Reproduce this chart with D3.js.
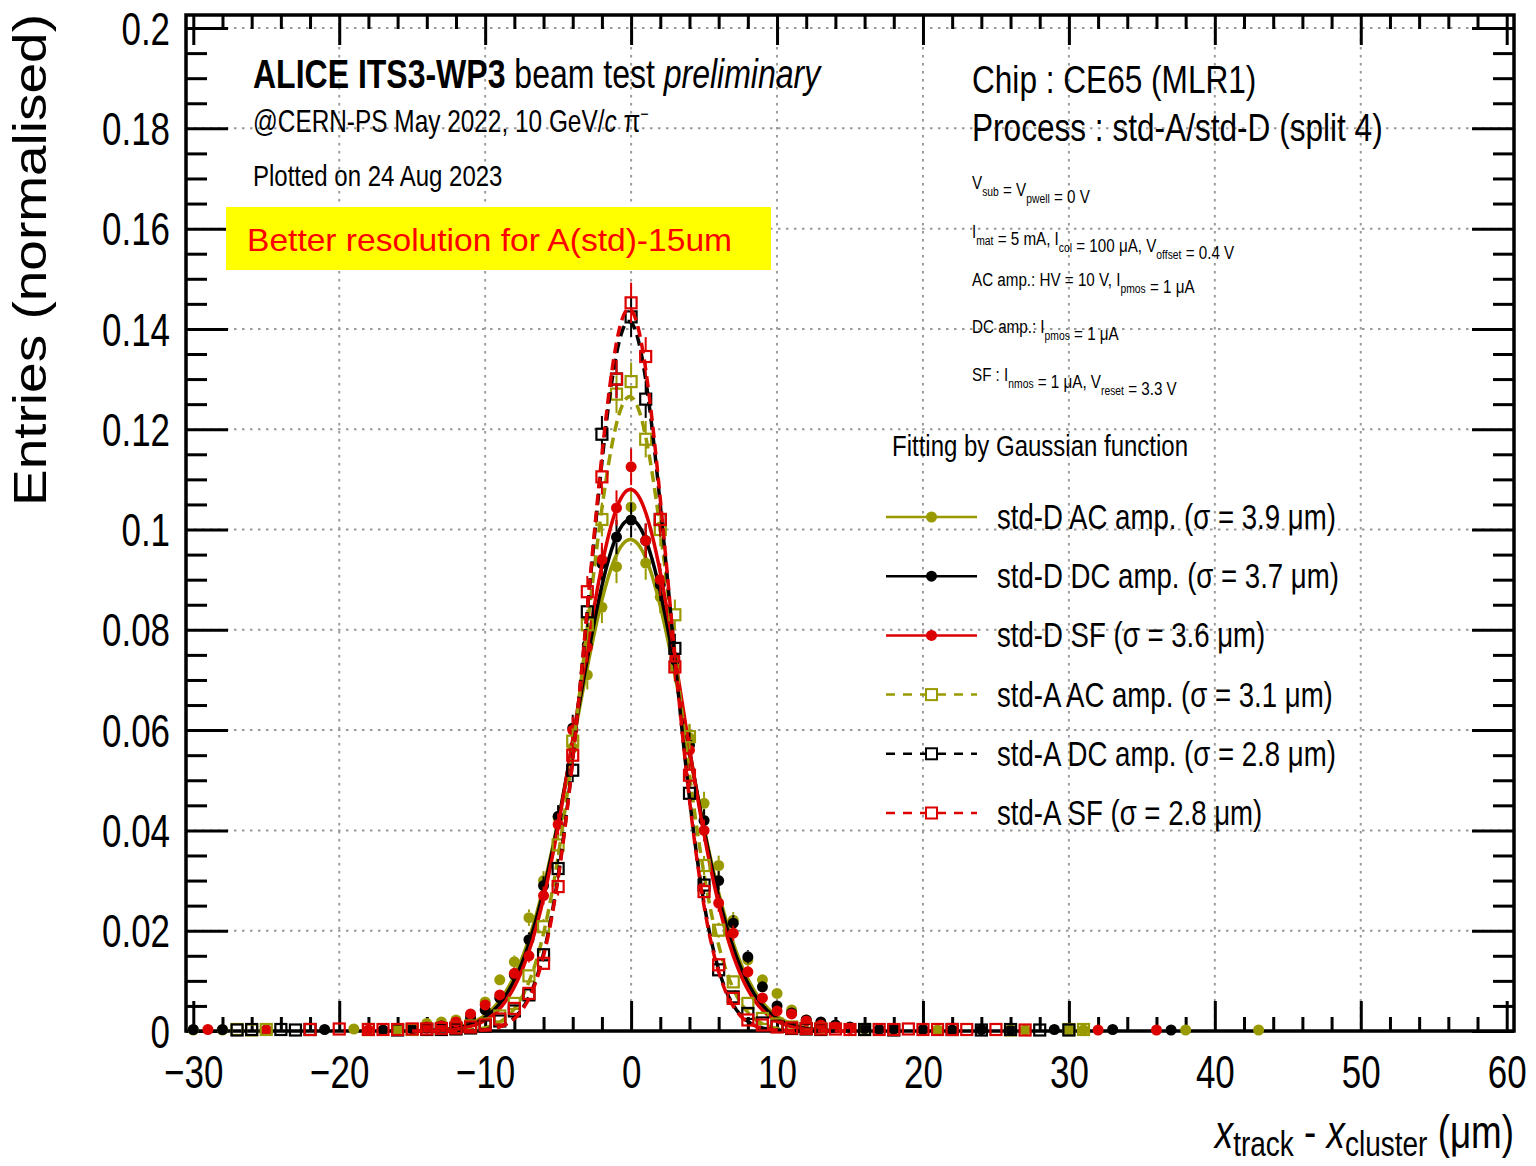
<!DOCTYPE html>
<html>
<head>
<meta charset="utf-8">
<script src="https://cdn.jsdelivr.net/npm/d3@7"></script>
<style>
  body { margin: 0; background: #fff; }
  text { font-family: "Liberation Sans", Arial, Helvetica, sans-serif; white-space: pre; }
</style>
</head>
<body>
<svg id="chart" width="1536" height="1166"></svg>
<script>
// ---- data: normalised residual histograms, 1 µm bins (bin centre, entries fraction) ----
const seriesNames = ["std-D AC amp.", "std-D DC amp.", "std-D SF", "std-A AC amp.", "std-A DC amp.", "std-A SF"];
const seriesSigma = ["3.9", "3.7", "3.6", "3.1", "2.8", "2.8"];
const seriesColors = ["#999900", "#000000", "#dd0000", "#999900", "#000000", "#dd0000"];
const seriesMarker = ["circle", "circle", "circle", "square", "square", "square"];
const seriesDashed = [false, false, false, true, true, true];
const seriesEntries = [8500, 8500, 8500, 9000, 9000, 9000];

const stdD_AC = [[-30,0.0002],[-28,0.0002],[-19,0.0004],[-16,0.0003],[-15,0.0006],[-14,0.0015],[-13,0.0018],[-12,0.0022],[-11,0.0032],[-10,0.0058],[-9,0.0102],[-8,0.0138],[-7,0.0226],[-6,0.0300],[-5,0.0425],[-4,0.0565],[-3,0.0710],[-2,0.0845],[-1,0.0926],[0,0.1045],[1,0.0933],[2,0.0865],[3,0.0725],[4,0.0585],[5,0.0454],[6,0.0330],[7,0.0221],[8,0.0142],[9,0.0102],[10,0.0075],[11,0.0042],[12,0.0022],[13,0.0014],[14,0.0008],[15,0.0006],[16,0.0004],[18,0.0003],[21,0.0002],[26,0.0003],[27,0.0002],[30,0.0003],[31,0.0002],[38,0.0002],[43,0.0002]];
const stdD_DC = [[-30,0.0003],[-28,0.0003],[-25,0.0002],[-21,0.0003],[-17,0.0002],[-15,0.0004],[-14,0.0006],[-13,0.0010],[-12,0.0016],[-11,0.0026],[-10,0.0042],[-9,0.0066],[-8,0.0112],[-7,0.0182],[-6,0.0290],[-5,0.0428],[-4,0.0604],[-3,0.0770],[-2,0.0932],[-1,0.0985],[0,0.1019],[1,0.0978],[2,0.0890],[3,0.0740],[4,0.0570],[5,0.0420],[6,0.0300],[7,0.0215],[8,0.0148],[9,0.0088],[10,0.0050],[11,0.0036],[12,0.0022],[13,0.0018],[14,0.0012],[15,0.0008],[16,0.0005],[17,0.0003],[18,0.0004],[20,0.0003],[22,0.0002],[24,0.0003],[26,0.0002],[29,0.0003],[33,0.0003],[37,0.0002]];
const stdD_SF = [[-29,0.0003],[-25,0.0002],[-18,0.0002],[-14,0.0008],[-13,0.0010],[-12,0.0018],[-11,0.0034],[-10,0.0052],[-9,0.0072],[-8,0.0115],[-7,0.0150],[-6,0.0270],[-5,0.0412],[-4,0.0600],[-3,0.0765],[-2,0.0940],[-1,0.1043],[0,0.1125],[1,0.0978],[2,0.0900],[3,0.0745],[4,0.0560],[5,0.0400],[6,0.0255],[7,0.0195],[8,0.0118],[9,0.0066],[10,0.0040],[11,0.0034],[12,0.0020],[13,0.0012],[14,0.0008],[15,0.0005],[32,0.0002],[36,0.0002]];
const stdA_AC = [[-27,0.0003],[-26,0.0002],[-25,0.0003],[-18,0.0003],[-15,0.0003],[-13,0.0004],[-12,0.0006],[-11,0.0010],[-10,0.0014],[-9,0.0030],[-8,0.0055],[-7,0.0110],[-6,0.0208],[-5,0.0371],[-4,0.0578],[-3,0.0810],[-2,0.1020],[-1,0.1270],[0,0.1295],[1,0.1180],[2,0.1000],[3,0.0830],[4,0.0587],[5,0.0330],[6,0.0201],[7,0.0098],[8,0.0055],[9,0.0025],[10,0.0014],[11,0.0008],[12,0.0005],[13,0.0004],[16,0.0003],[26,0.0002],[30,0.0003],[31,0.0003]];
const stdA_DC = [[-27,0.0002],[-26,0.0003],[-24,0.0003],[-23,0.0002],[-22,0.0003],[-16,0.0002],[-14,0.0003],[-13,0.0003],[-12,0.0004],[-11,0.0006],[-10,0.0010],[-9,0.0020],[-8,0.0040],[-7,0.0072],[-6,0.0152],[-5,0.0324],[-4,0.0520],[-3,0.0836],[-2,0.1190],[-1,0.1300],[0,0.1424],[1,0.1260],[2,0.1020],[3,0.0763],[4,0.0474],[5,0.0291],[6,0.0122],[7,0.0068],[8,0.0035],[9,0.0016],[10,0.0009],[11,0.0005],[12,0.0004],[13,0.0003],[16,0.0003],[18,0.0002],[22,0.0003],[24,0.0002],[26,0.0003],[28,0.0002],[30,0.0002]];
const stdA_SF = [[-22,0.0003],[-20,0.0004],[-18,0.0003],[-17,0.0003],[-16,0.0003],[-15,0.0004],[-14,0.0004],[-13,0.0005],[-12,0.0006],[-11,0.0008],[-10,0.0012],[-9,0.0024],[-8,0.0045],[-7,0.0075],[-6,0.0135],[-5,0.0288],[-4,0.0550],[-3,0.0876],[-2,0.1105],[-1,0.1300],[0,0.1452],[1,0.1345],[2,0.1020],[3,0.0726],[4,0.0510],[5,0.0278],[6,0.0132],[7,0.0065],[8,0.0022],[9,0.0012],[10,0.0008],[11,0.0006],[12,0.0005],[13,0.0004],[14,0.0004],[15,0.0003],[17,0.0003],[18,0.0003],[19,0.0004],[20,0.0003],[21,0.0003],[22,0.0003],[23,0.0003],[25,0.0003],[27,0.0002]];
const seriesData = [stdD_AC, stdD_DC, stdD_SF, stdA_AC, stdA_DC, stdA_SF];

// Gaussian fit results (amplitude, mean in µm, sigma in µm)
const fitAmp   = [0.0980, 0.1020, 0.1080, 0.1265, 0.1415, 0.1440];
const fitMean  = [-0.05, -0.05, -0.05, -0.10, -0.15, -0.15];
const fitSigma = [3.80, 3.70, 3.55, 3.05, 2.78, 2.75];
const fitRange = [-15, 15];

// axis ticks
const xTicks = [-30, -20, -10, 0, 10, 20, 30, 40, 50, 60];
const yTicks = [0, 0.02, 0.04, 0.06, 0.08, 0.1, 0.12, 0.14, 0.16, 0.18, 0.2];
const yTickLabels = ["0", "0.02", "0.04", "0.06", "0.08", "0.1", "0.12", "0.14", "0.16", "0.18", "0.2"];

// ---- layout ----
const svg = d3.select("#chart");
const F = { left: 186, right: 1514, top: 15, bottom: 1031 };
const SX = 0.8;   // condensed text width
const SXT = 0.76; // tick labels
const x = d3.scaleLinear().domain([-30.5, 60.5]).range([F.left, F.right]);
const y = d3.scaleLinear().domain([0, 0.2026]).range([F.bottom, F.top]);

// grid
const grid = svg.append("g").attr("stroke", "#9a9a9a").attr("stroke-width", 2).attr("stroke-dasharray", "2.5,5.5");
xTicks.filter(v => v > -30 && v < 60).forEach(v => {
  grid.append("line").attr("x1", x(v)).attr("x2", x(v)).attr("y1", F.top).attr("y2", F.bottom);
});
yTicks.filter(v => v > 0).forEach(v => {
  grid.append("line").attr("x1", F.left).attr("x2", F.right).attr("y1", y(v)).attr("y2", y(v));
});

// axes (ticks inward on all four sides)
const xMinor = d3.range(-30, 61, 2).filter(v => v % 10 !== 0);
const yMinor = d3.range(0.005, 0.2026, 0.005).filter(v => Math.abs(v / 0.02 - Math.round(v / 0.02)) > 1e-6);
const fmtX = d => (d < 0 ? "\u2212" + Math.abs(d) : String(d));
const fmtY = d => yTickLabels[yTicks.findIndex(t => Math.abs(t - d) < 1e-9)];

function styleAxis(g) {
  g.select(".domain").remove();
  g.selectAll(".tick line").attr("stroke", "#000").attr("stroke-width", 3);
  g.selectAll("text").attr("fill", "#000").attr("font-size", 46)
    .attr("font-family", "Liberation Sans, Arial, sans-serif");
}
svg.append("g").attr("transform", `translate(0,${F.bottom})`)
  .call(d3.axisBottom(x).tickValues(xTicks).tickSize(-30).tickPadding(24).tickFormat(fmtX))
  .call(styleAxis)
  .call(g => g.selectAll("text").attr("transform", `scale(${SXT},1)`));
svg.append("g").attr("transform", `translate(0,${F.bottom})`)
  .call(d3.axisBottom(x).tickValues(xMinor).tickSize(-14).tickFormat(""))
  .call(styleAxis);
svg.append("g").attr("transform", `translate(0,${F.top})`)
  .call(d3.axisTop(x).tickValues(xTicks).tickSize(-30).tickFormat(""))
  .call(styleAxis);
svg.append("g").attr("transform", `translate(0,${F.top})`)
  .call(d3.axisTop(x).tickValues(xMinor).tickSize(-14).tickFormat(""))
  .call(styleAxis);
svg.append("g").attr("transform", `translate(${F.left},0)`)
  .call(d3.axisLeft(y).tickValues(yTicks).tickSize(-42).tickPadding(21).tickFormat(fmtY))
  .call(styleAxis)
  .call(g => g.selectAll("text").attr("transform", `scale(${SXT},1)`).attr("dy", "0.35em"));
svg.append("g").attr("transform", `translate(${F.left},0)`)
  .call(d3.axisLeft(y).tickValues(yMinor).tickSize(-21).tickFormat(""))
  .call(styleAxis);
svg.append("g").attr("transform", `translate(${F.right},0)`)
  .call(d3.axisRight(y).tickValues(yTicks).tickSize(-42).tickFormat(""))
  .call(styleAxis);
svg.append("g").attr("transform", `translate(${F.right},0)`)
  .call(d3.axisRight(y).tickValues(yMinor).tickSize(-21).tickFormat(""))
  .call(styleAxis);

// frame
svg.append("rect").attr("x", F.left).attr("y", F.top)
  .attr("width", F.right - F.left).attr("height", F.bottom - F.top)
  .attr("fill", "none").attr("stroke", "#000").attr("stroke-width", 3.5);

// ---- data points and fits ----
const R = 5.5;        // marker half-size
const plot = svg.append("g");
const curve = d3.line().x(d => x(d[0])).y(d => y(d[1])).curve(d3.curveLinear);

seriesData.forEach((pts, i) => {
  const col = seriesColors[i];
  const g = plot.append("g");
  // vertical statistical error bars, interrupted by the marker
  pts.forEach(([b, v]) => {
    const e = Math.sqrt(v / seriesEntries[i]);
    const px = x(b), pTop = y(v + e), pBot = y(Math.max(0, v - e)), pc = y(v);
    if (pc - pTop > R) g.append("line").attr("x1", px).attr("x2", px).attr("y1", pTop).attr("y2", pc - R)
      .attr("stroke", col).attr("stroke-width", 2);
    if (pBot - pc > R) g.append("line").attr("x1", px).attr("x2", px).attr("y1", pc + R).attr("y2", pBot)
      .attr("stroke", col).attr("stroke-width", 2);
  });
  if (seriesMarker[i] === "circle") {
    g.selectAll("circle").data(pts).join("circle")
      .attr("cx", d => x(d[0])).attr("cy", d => y(d[1])).attr("r", R).attr("fill", col);
  } else {
    g.selectAll("rect").data(pts).join("rect")
      .attr("x", d => x(d[0]) - R).attr("y", d => y(d[1]) - R)
      .attr("width", 2 * R).attr("height", 2 * R)
      .attr("fill", "none").attr("stroke", col).attr("stroke-width", 2.2);
  }
  // Gaussian fit
  const xs = d3.range(fitRange[0], fitRange[1] + 1e-9, 0.1);
  const fpts = xs.map(t => [t, fitAmp[i] * Math.exp(-0.5 * ((t - fitMean[i]) / fitSigma[i]) ** 2)]);
  plot.append("path").attr("d", curve(fpts)).attr("fill", "none").attr("stroke", col)
    .attr("stroke-width", 3.5).attr("stroke-dasharray", seriesDashed[i] ? "11,6" : null);
});

// ---- text helpers ----
function ctext(xp, yp, size, anchor) {
  return svg.append("g").attr("transform", `translate(${xp},${yp}) scale(${SX},1)`)
    .append("text").attr("font-size", size).attr("text-anchor", anchor || "start").attr("fill", "#000");
}
function withSubs(t, parts, size) {
  // parts: strings, or {sub: "..."} for subscripts
  parts.forEach(p => {
    if (typeof p === "string") t.append("tspan").text(p);
    else {
      t.append("tspan").attr("font-size", size * 0.68).attr("dy", size * 0.36).text(p.sub);
      t.append("tspan").attr("dy", -size * 0.36).text("");
    }
  });
}

// header
const t1 = ctext(253, 88, 40);
t1.append("tspan").attr("font-weight", "bold").text("ALICE ITS3-WP3");
t1.append("tspan").text(" beam test ");
t1.append("tspan").attr("font-style", "italic").text("preliminary");
const t2 = ctext(253, 132, 30.5);
t2.append("tspan").text("@CERN-PS May 2022, 10 GeV/");
t2.append("tspan").attr("font-style", "italic").text("c");
t2.append("tspan").text(" \u03c0");
t2.append("tspan").attr("font-size", 18).attr("dy", -12).text("\u2212");
ctext(253, 186, 30).text("Plotted on 24 Aug 2023");

// chip information
ctext(972, 93, 39.5).text("Chip : CE65 (MLR1)");
ctext(972, 141, 39.5).text("Process : std-A/std-D (split 4)");
const PS = 19;
withSubs(ctext(972, 189, PS), ["V", {sub: "sub"}, " = V", {sub: "pwell"}, " = 0 V"], PS);
withSubs(ctext(972, 238, PS), ["I", {sub: "mat"}, " = 5 mA, I", {sub: "col"}, " = 100 \u03bcA, V", {sub: "offset"}, " = 0.4 V"], PS);
withSubs(ctext(972, 286, PS), ["AC amp.: HV = 10 V, I", {sub: "pmos"}, " = 1 \u03bcA"], PS);
withSubs(ctext(972, 333, PS), ["DC amp.: I", {sub: "pmos"}, " = 1 \u03bcA"], PS);
withSubs(ctext(972, 381, PS), ["SF : I", {sub: "nmos"}, " = 1 \u03bcA, V", {sub: "reset"}, " = 3.3 V"], PS);

// legend
ctext(892, 456, 30).text("Fitting by Gaussian function");
seriesNames.forEach((name, i) => {
  const yc = 517 + i * 59.2, col = seriesColors[i];
  svg.append("line").attr("x1", 886).attr("x2", 977).attr("y1", yc).attr("y2", yc)
    .attr("stroke", col).attr("stroke-width", 2.5)
    .attr("stroke-dasharray", seriesDashed[i] ? "9,8" : null);
  if (seriesMarker[i] === "circle") {
    svg.append("circle").attr("cx", 931.5).attr("cy", yc).attr("r", 5.5).attr("fill", col);
  } else {
    svg.append("rect").attr("x", 926).attr("y", yc - 5.5).attr("width", 11).attr("height", 11)
      .attr("fill", "#fff").attr("stroke", col).attr("stroke-width", 2);
  }
  ctext(997, yc + 12, 34.5).text(`${name} (\u03c3 = ${seriesSigma[i]} \u03bcm)`);
});

// axis titles
const xt = ctext(1514, 1148, 46, "end");
xt.append("tspan").attr("font-style", "italic").text("x");
xt.append("tspan").attr("font-size", 35).attr("dy", 8).text("track");
xt.append("tspan").attr("dy", -8).text(" - ");
xt.append("tspan").attr("font-style", "italic").text("x");
xt.append("tspan").attr("font-size", 35).attr("dy", 8).text("cluster");
xt.append("tspan").attr("dy", -8).text(" (\u03bcm)");

svg.append("g").attr("transform", "translate(46,14) scale(0.85,1) rotate(-90)")
  .append("text").attr("font-size", 55).attr("text-anchor", "end").attr("fill", "#000")
  .text("Entries (normalised)");

// highlighted note
svg.append("rect").attr("x", 226).attr("y", 207).attr("width", 545).attr("height", 63).attr("fill", "#ffff00");
svg.append("text").attr("x", 247).attr("y", 251).attr("font-family", "Lato, 'Open Sans', sans-serif")
  .attr("font-size", 32).attr("fill", "#ff0000").attr("textLength", 485).attr("lengthAdjust", "spacingAndGlyphs")
  .text("Better resolution for A(std)-15um");
</script>
</body>
</html>
